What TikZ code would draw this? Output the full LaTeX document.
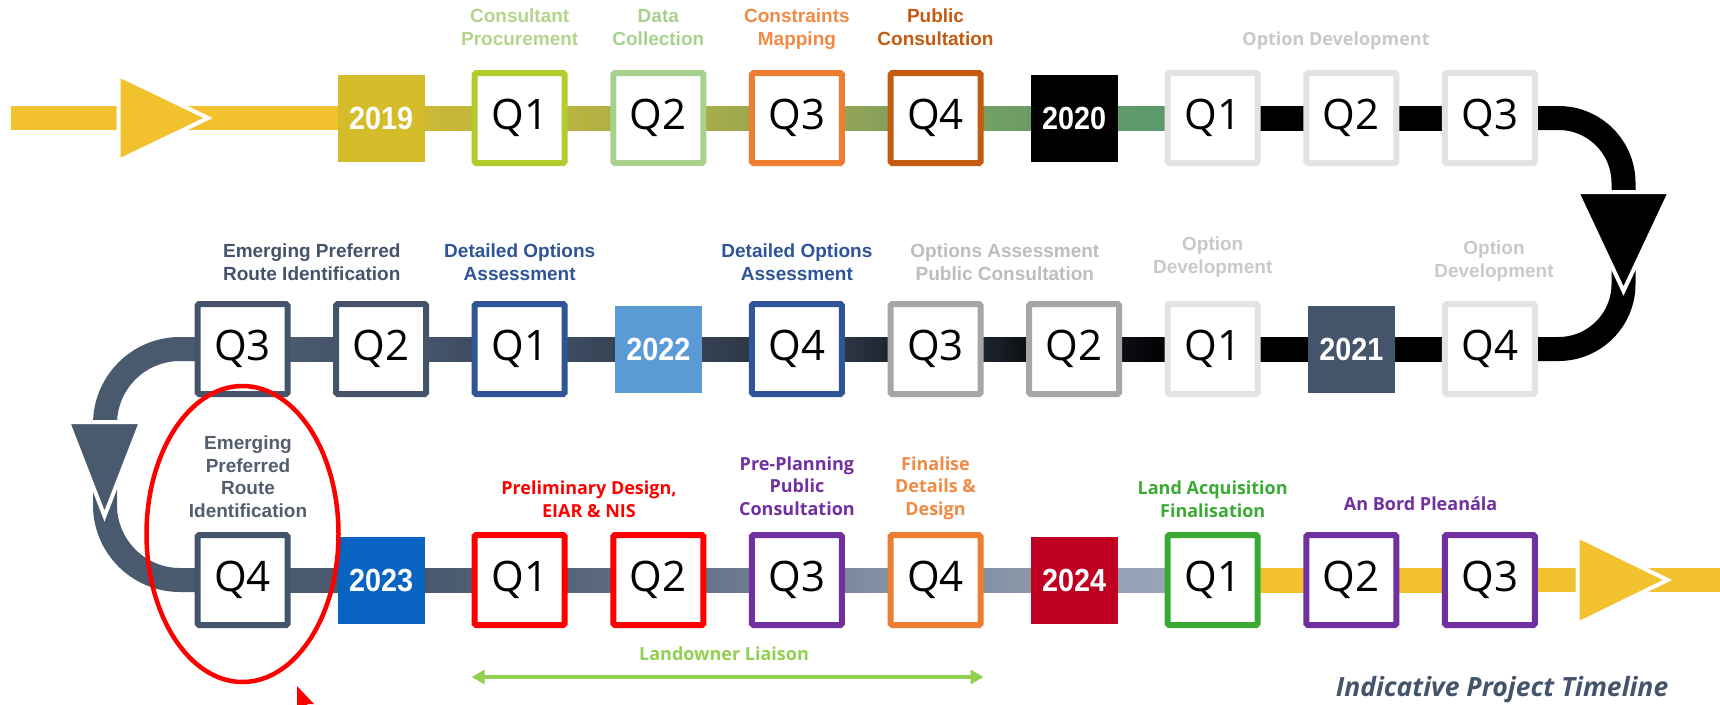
\documentclass[tikz,border=0pt]{standalone}
\usepackage{fontspec}
\setmainfont{Liberation Sans}
\newfontfamily\osans{Open Sans}
\newfontfamily\yrfont[FakeStretch=0.9]{Liberation Sans}
\usetikzlibrary{calc,arrows.meta,backgrounds}
\definecolor{ylw}{HTML}{F2C12E}
\definecolor{slate}{HTML}{44546A}
\definecolor{slatecurve}{HTML}{4A5A6E}
\definecolor{dblue}{HTML}{2F5597}
\definecolor{lgray}{HTML}{E3E3E3}
\definecolor{mgray}{HTML}{A6A6A6}
\definecolor{lgtxt}{HTML}{C9C9C9}
\definecolor{optxt}{HTML}{BDBDBD}
\definecolor{lime}{HTML}{B3CB2D}
\definecolor{lgreen}{HTML}{A9D18E}
\definecolor{cons}{HTML}{B4D48C}
\definecolor{orng}{HTML}{ED7D31}
\definecolor{orngtxt}{HTML}{F08A45}
\definecolor{dorng}{HTML}{C55A11}
\definecolor{purp}{HTML}{7030A0}
\definecolor{grn}{HTML}{3AAA35}
\definecolor{liais}{HTML}{92D050}
\definecolor{emtxt}{HTML}{525E6E}
\definecolor{yr19}{HTML}{D4BC2A}
\definecolor{yr22}{HTML}{5B9BD5}
\definecolor{yr23}{HTML}{0863C1}
\definecolor{yr24}{HTML}{C00020}
% row 1 band colours
\definecolor{a1}{HTML}{CCB836}\definecolor{a2}{HTML}{C2B63A}
\definecolor{a3}{HTML}{B9B43F}\definecolor{a4}{HTML}{B0B044}
\definecolor{a5}{HTML}{A8AD48}\definecolor{a6}{HTML}{9CA74F}
\definecolor{a7}{HTML}{93A455}\definecolor{a8}{HTML}{84A05B}
\definecolor{a9}{HTML}{76A062}\definecolor{a10}{HTML}{6A9C66}
\definecolor{a11}{HTML}{609A6A}\definecolor{a12}{HTML}{5A996C}
% row 2 band colours
\definecolor{b0}{HTML}{4A5A6E}\definecolor{b1}{HTML}{44546A}
\definecolor{b2}{HTML}{3E4C60}\definecolor{b3}{HTML}{364254}
\definecolor{b4}{HTML}{2C3645}\definecolor{b5}{HTML}{1E2530}
\definecolor{b6}{HTML}{0D0F14}\definecolor{b7}{HTML}{000000}
% row 3 band colours
\definecolor{d1}{HTML}{4E5D72}\definecolor{d2}{HTML}{56647A}
\definecolor{d3}{HTML}{5C6A80}\definecolor{d4}{HTML}{66748A}
\definecolor{d5}{HTML}{6E7B90}\definecolor{d6}{HTML}{7C889C}
\definecolor{d7}{HTML}{8490A4}\definecolor{d8}{HTML}{8C97AA}
\definecolor{d9}{HTML}{96A0B4}\definecolor{d10}{HTML}{9AA4B8}
\newcommand\qf{\osans\fontsize{42}{48}\selectfont}
\newcommand\yf{\yrfont\fontsize{32}{38}\selectfont\bfseries}
\newcommand\lfA{\fontsize{19}{22.5}\selectfont\bfseries}
\newcommand\lfO{\osans\fontsize{18}{22.5}\selectfont\bfseries}
\newcommand\tlband[4]{\shade[left color=#3,right color=#4] ($(#1.east)+(-1,-12)$) rectangle ($(#2.west)+(1,12)$);}
\tikzset{
  qb/.style={draw=#1, line width=6pt, fill=white, minimum size=90pt, inner sep=0pt, rounded corners=1.5pt, font=\qf},
  yb/.style={fill=#1, minimum size=87pt, inner sep=0pt, text=white, font=\yf},
  lbA/.style={text=#1, align=center, inner sep=0pt, anchor=south, font=\lfA, execute at end node=\strut},
  lbO/.style={text=#1, align=center, inner sep=0pt, anchor=south, font=\lfO, execute at end node=\strut},
  bandline/.style={line width=24pt},
  tri/.style={fill=#1, draw=white, line width=4pt, line join=miter}
}
\begin{document}
\begin{tikzpicture}[x=1pt,y=-1pt]
\useasboundingbox (0,0) rectangle (1720,704);
% ---------- row 1 ----------
\node[yb=yr19] (r1c1) at (381.1,118) {2019};
\node[qb=lime] (r1c2) at (519.7,118) {Q1};
\node[qb=lgreen] (r1c3) at (658.3,118) {Q2};
\node[qb=orng] (r1c4) at (796.9,118) {Q3};
\node[qb=dorng] (r1c5) at (935.5,118) {Q4};
\node[yb=black] (r1c6) at (1074.1,118) {2020};
\node[qb=lgray] (r1c7) at (1212.7,118) {Q1};
\node[qb=lgray] (r1c8) at (1351.3,118) {Q2};
\node[qb=lgray] (r1c9) at (1489.9,118) {Q3};
% ---------- row 2 ----------
\node[qb=slate] (r2c0) at (242.5,349) {Q3};
\node[qb=slate] (r2c1) at (381.1,349) {Q2};
\node[qb=dblue] (r2c2) at (519.7,349) {Q1};
\node[yb=yr22] (r2c3) at (658.3,349) {2022};
\node[qb=dblue] (r2c4) at (796.9,349) {Q4};
\node[qb=mgray] (r2c5) at (935.5,349) {Q3};
\node[qb=mgray] (r2c6) at (1074.1,349) {Q2};
\node[qb=lgray] (r2c7) at (1212.7,349) {Q1};
\node[yb=slate] (r2c8) at (1351.3,349) {2021};
\node[qb=lgray] (r2c9) at (1489.9,349) {Q4};
% ---------- row 3 ----------
\node[qb=slate] (r3c0) at (242.5,580) {Q4};
\node[yb=yr23] (r3c1) at (381.1,580) {2023};
\node[qb=red] (r3c2) at (519.7,580) {Q1};
\node[qb=red] (r3c3) at (658.3,580) {Q2};
\node[qb=purp] (r3c4) at (796.9,580) {Q3};
\node[qb=orng] (r3c5) at (935.5,580) {Q4};
\node[yb=yr24] (r3c6) at (1074.1,580) {2024};
\node[qb=grn] (r3c7) at (1212.7,580) {Q1};
\node[qb=purp] (r3c8) at (1351.3,580) {Q2};
\node[qb=purp] (r3c9) at (1489.9,580) {Q3};
\coordinate (start) at (11,118);
\coordinate (finish) at (1720,580);
% ---------- bands (behind) ----------
\begin{pgfonlayer}{background}
\fill[white] (0,0) rectangle (1720,704);
\fill[ylw] ($(start)+(0,-12)$) rectangle ($(r1c1.center)+(0,12)$);
\tlband{r1c1}{r1c2}{a1}{a2}
\tlband{r1c2}{r1c3}{a3}{a4}
\tlband{r1c3}{r1c4}{a5}{a6}
\tlband{r1c4}{r1c5}{a7}{a8}
\tlband{r1c5}{r1c6}{a9}{a10}
\tlband{r1c6}{r1c7}{a11}{a12}
\tlband{r1c7}{r1c8}{black}{black}
\tlband{r1c8}{r1c9}{black}{black}
\draw[bandline, black] (r1c9.center) -- (1558.5,118) arc[start angle=-90,end angle=0,radius=65] -- (1623.5,284) arc[start angle=0,end angle=90,radius=65] -- (r2c9.center);
\tlband{r2c0}{r2c1}{b0}{b1}
\tlband{r2c1}{r2c2}{b1}{b2}
\tlband{r2c2}{r2c3}{b2}{b3}
\tlband{r2c3}{r2c4}{b3}{b4}
\tlband{r2c4}{r2c5}{b4}{b5}
\tlband{r2c5}{r2c6}{b5}{b6}
\tlband{r2c6}{r2c7}{b6}{b7}
\tlband{r2c7}{r2c8}{black}{black}
\tlband{r2c8}{r2c9}{black}{black}
\draw[bandline, slatecurve] (r2c0.center) -- (180,349) arc[start angle=-90,end angle=-180,radius=75] -- (105,505) arc[start angle=180,end angle=90,radius=75] -- (r3c0.center);
\tlband{r3c0}{r3c1}{b0}{b0}
\tlband{r3c1}{r3c2}{b0}{d1}
\tlband{r3c2}{r3c3}{d2}{d3}
\tlband{r3c3}{r3c4}{d4}{d5}
\tlband{r3c4}{r3c5}{d6}{d7}
\tlband{r3c5}{r3c6}{d7}{d8}
\tlband{r3c6}{r3c7}{d9}{d10}
\tlband{r3c7}{r3c8}{ylw}{ylw}
\tlband{r3c8}{r3c9}{ylw}{ylw}
\fill[ylw] ($(r3c9.center)+(0,-12)$) rectangle ($(finish)+(0,12)$);
\end{pgfonlayer}
% ---------- arrow heads ----------
\filldraw[tri=ylw] (118.5,75) -- (208,118) -- (118.5,161) -- cycle;
\filldraw[tri=black] (1577,192) -- (1670,192) -- (1623.5,291) -- cycle;
\filldraw[tri=slatecurve] (68,422) -- (141,422) -- (104.5,516) -- cycle;
\filldraw[tri=ylw] (1577.5,536) -- (1667.5,580) -- (1577.5,624) -- cycle;
% ---------- labels row 1 ----------
\node[lbA=cons] (l1) at (519.7,52) {Consultant\\Procurement};
\node[lbA=lgreen] (l2) at (658.3,52) {Data\\Collection};
\node[lbA=orngtxt] (l3) at (796.9,52) {Constraints\\Mapping};
\node[lbA=dorng] (l4) at (935.5,52) {Public\\Consultation};
\node[lbO=lgtxt] (l5) at (1336,52) {Option Development};
% ---------- labels row 2 ----------
\node[lbA=slate] (l6) at (311.8,287) {Emerging Preferred\\Route Identification};
\node[lbA=dblue] (l7) at (519.7,287) {Detailed Options\\Assessment};
\node[lbA=dblue] (l8) at (796.9,287) {Detailed Options\\Assessment};
\node[lbA=optxt] (l9) at (1004.8,287) {Options Assessment\\Public Consultation};
\node[lbA=lgtxt] (l10) at (1212.7,280) {Option\\Development};
\node[lbA=lgtxt] (l11) at (1494,284) {Option\\Development};
% ---------- labels row 3 ----------
\node[lbA=emtxt] (l12) at (248,524) {Emerging\\Preferred\\Route\\Identification};
\node[lbO=red] (l13) at (589,524) {Preliminary Design,\\EIAR \& NIS};
\node[lbO=purp] (l14) at (796.9,522) {Pre-Planning\\Public\\Consultation};
\node[lbO=orngtxt] (l15) at (935.5,522) {Finalise\\Details \&\\Design};
\node[lbO=grn] (l16) at (1212.7,524) {Land Acquisition\\Finalisation};
\node[lbO=purp] (l17) at (1420.6,517) {An Bord Pleanála};
% ---------- landowner liaison ----------
\node[lbO=liais] (l18) at (724,667) {Landowner Liaison};
\coordinate (lla) at ($(r3c2.west)+(0,97)$);
\coordinate (llb) at ($(r3c5.east)+(0,97)$);
\draw[liais, line width=3.5pt, {Triangle[length=13pt,width=14pt]}-{Triangle[length=13pt,width=14pt]}] (lla) -- (llb);
% ---------- highlight ----------
\draw[red, line width=4.5pt] (242.5,534) ellipse [x radius=96, y radius=148];
\fill[red] (297,686) -- ++(0,24) -- ++(6,-5) -- ++(4,10) -- ++(4,-2) -- ++(-4,-9) -- ++(7,0) -- cycle;
% ---------- title ----------
\node[text=slate, font=\osans\bfseries\itshape\fontsize{26.5}{30}\selectfont, anchor=base, inner sep=0pt] (title) at (1502,696) {Indicative Project Timeline};
\end{tikzpicture}
\end{document}
